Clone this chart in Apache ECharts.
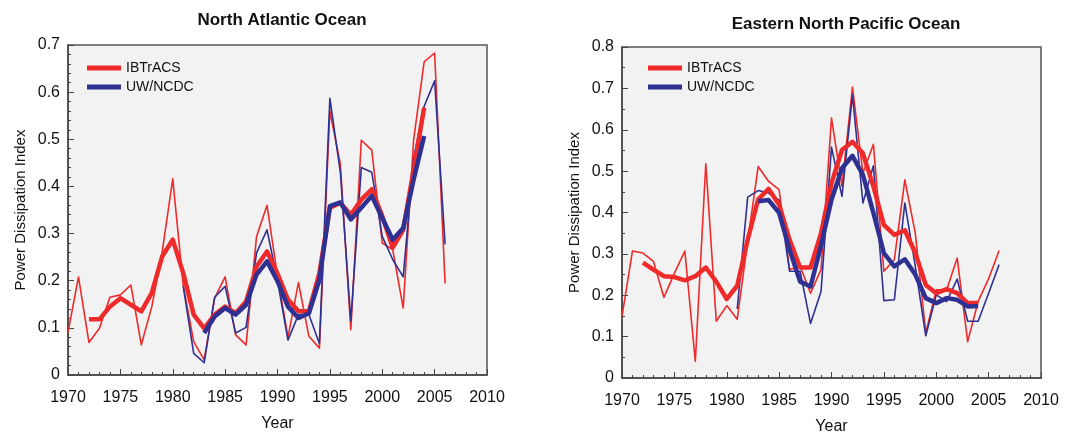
<!DOCTYPE html>
<html>
<head>
<meta charset="utf-8">
<script src="https://cdn.jsdelivr.net/npm/echarts@6/dist/echarts.min.js"></script>
<style>
html,body{margin:0;padding:0;background:#fff;}
#chart{width:1065px;height:432px;}
</style>
</head>
<body>
<div id="chart"></div>
<script>
// ---- Data ----
const titles = ['North Atlantic Ocean', 'Eastern North Pacific Ocean'];
const seriesNames = ['IBTrACS', 'UW/NCDC'];

// North Atlantic
const naIbThinStart = 1970;
const naIbThin = [0.09, 0.208, 0.069, 0.099, 0.165, 0.170, 0.191, 0.064, 0.145, 0.262, 0.416, 0.19, 0.071, 0.032, 0.163, 0.208, 0.085, 0.064, 0.294, 0.36, 0.21, 0.08, 0.196, 0.082, 0.057, 0.56, 0.447, 0.096, 0.498, 0.477, 0.28, 0.266, 0.142, 0.50, 0.664, 0.683, 0.194];
const naUwThinStart = 1981;
const naUwThin = [0.188, 0.046, 0.026, 0.165, 0.188, 0.089, 0.101, 0.259, 0.308, 0.20, 0.074, 0.128, 0.128, 0.067, 0.587, 0.43, 0.115, 0.44, 0.43, 0.294, 0.245, 0.208, 0.46, 0.57, 0.624, 0.277];
const naIbSmoothStart = 1972;
const naIbSmooth = [0.118, 0.118, 0.145, 0.163, 0.149, 0.135, 0.174, 0.252, 0.287, 0.216, 0.128, 0.099, 0.128, 0.145, 0.131, 0.156, 0.23, 0.262, 0.215, 0.16, 0.135, 0.135, 0.216, 0.355, 0.365, 0.34, 0.372, 0.394, 0.337, 0.27, 0.308, 0.436, 0.567];
const naUwSmoothStart = 1983;
const naUwSmooth = [0.089, 0.124, 0.142, 0.128, 0.149, 0.213, 0.241, 0.199, 0.145, 0.121, 0.131, 0.202, 0.358, 0.366, 0.33, 0.355, 0.38, 0.333, 0.287, 0.312, 0.415, 0.507];

// Eastern North Pacific
const enpIbThinStart = 1970;
const enpIbThin = [0.149, 0.307, 0.302, 0.282, 0.195, 0.253, 0.307, 0.040, 0.518, 0.137, 0.175, 0.142, 0.33, 0.511, 0.475, 0.455, 0.262, 0.27, 0.205, 0.262, 0.628, 0.463, 0.703, 0.495, 0.565, 0.258, 0.286, 0.479, 0.35, 0.109, 0.213, 0.213, 0.29, 0.088, 0.185, 0.24, 0.308];
const enpUwThinStart = 1981;
const enpUwThin = [0.167, 0.437, 0.453, 0.447, 0.43, 0.258, 0.258, 0.132, 0.209, 0.558, 0.439, 0.684, 0.423, 0.513, 0.187, 0.189, 0.423, 0.27, 0.102, 0.201, 0.185, 0.239, 0.137, 0.137, 0.205, 0.274];
const enpIbSmoothStart = 1972;
const enpIbSmooth = [0.279, 0.262, 0.246, 0.244, 0.236, 0.246, 0.267, 0.233, 0.191, 0.223, 0.334, 0.432, 0.457, 0.419, 0.334, 0.267, 0.267, 0.35, 0.471, 0.551, 0.571, 0.543, 0.463, 0.37, 0.346, 0.357, 0.302, 0.225, 0.205, 0.215, 0.205, 0.181, 0.181];
const enpUwSmoothStart = 1983;
const enpUwSmooth = [0.427, 0.43, 0.399, 0.31, 0.233, 0.221, 0.32, 0.431, 0.507, 0.537, 0.491, 0.399, 0.302, 0.27, 0.287, 0.25, 0.193, 0.181, 0.193, 0.189, 0.173, 0.174];

const xTicks = { min: 1970, max: 2010, interval: 5 };
const yMaxes = [0.7, 0.8];

// ---- Build ----
const RED = '#ee2a2a';
const BLUE = '#2e3192';
function pairs(start, vals) { return vals.map((v, i) => [start + i, v]); }

const grids = [
  { left: 68, top: 45, width: 419, height: 330 },
  { left: 622, top: 47, width: 419, height: 331 }
];

const chart = echarts.init(document.getElementById('chart'));

function xAxis(i) {
  return {
    gridIndex: i, type: 'value', min: xTicks.min, max: xTicks.max, interval: xTicks.interval,
    name: 'Year', nameLocation: 'middle', nameGap: 41,
    nameTextStyle: { fontFamily: 'Liberation Sans', fontSize: 16, color: '#111' },
    axisLine: { show: true, lineStyle: { color: '#444', width: 1.5 } },
    axisTick: { show: true, inside: true, length: 6, lineStyle: { color: '#444' } },
    minorTick: { show: true, splitNumber: 5, length: 3, lineStyle: { color: '#444' } },
    splitLine: { show: false },
    axisLabel: { fontFamily: 'Liberation Sans', fontSize: 16, color: '#111', margin: 15, formatter: v => String(v) }
  };
}
function yAxis(i, max, minor) {
  return {
    gridIndex: i, type: 'value', min: 0, max: max, interval: 0.1,
    name: 'Power Dissipation Index', nameLocation: 'middle', nameGap: 40,
    nameTextStyle: { fontFamily: 'Liberation Sans', fontSize: 15, color: '#111' },
    axisLine: { show: true, lineStyle: { color: '#444', width: 1.5 } },
    axisTick: { show: true, inside: true, length: 6, lineStyle: { color: '#444' } },
    minorTick: { show: true, splitNumber: minor, length: 3, lineStyle: { color: '#444' } },
    splitLine: { show: false },
    axisLabel: { fontFamily: 'Liberation Sans', fontSize: 16, color: '#111', margin: 8,
      formatter: v => (Math.abs(v) < 1e-9 ? '0' : (Math.round(v * 10) / 10).toFixed(1)) }
  };
}
function line(i, name, data, color, width) {
  return {
    type: 'line', name: name, xAxisIndex: i, yAxisIndex: i, data: data,
    showSymbol: false, symbol: 'none', silent: true,
    lineStyle: { color: color, width: width, join: 'round' },
    itemStyle: { color: color }
  };
}
function legend(i, left) {
  return {
    orient: 'vertical', left: left, top: 56, itemWidth: 34, itemHeight: 5, itemGap: 5,
    icon: 'rect',
    textStyle: { fontFamily: 'Liberation Sans', fontSize: 14, color: '#111' },
    data: [
      { name: seriesNames[0], itemStyle: { color: RED } },
      { name: seriesNames[1], itemStyle: { color: BLUE } }
    ],
    selectedMode: false
  };
}

const option = {
  animation: false,
  backgroundColor: '#fff',
  title: [
    { text: titles[0], left: 277, top: 7, textAlign: 'center',
      textStyle: { fontFamily: 'Liberation Sans', fontSize: 17, fontWeight: 'bold', color: '#111' } },
    { text: titles[1], left: 841, top: 11, textAlign: 'center',
      textStyle: { fontFamily: 'Liberation Sans', fontSize: 17, fontWeight: 'bold', color: '#111' } }
  ],
  legend: [legend(0, 82), legend(1, 643)],
  grid: grids.map(g => Object.assign({ show: true, backgroundColor: '#f2f2f2', borderColor: '#555', borderWidth: 1.5, containLabel: false, outerBoundsMode: 'none' }, g)),
  xAxis: [xAxis(0), xAxis(1)],
  yAxis: [yAxis(0, yMaxes[0], 5), yAxis(1, yMaxes[1], 2)],
  series: [
    line(0, seriesNames[0], pairs(naIbThinStart, naIbThin), RED, 1.6),
    line(0, seriesNames[1], pairs(naUwThinStart, naUwThin), BLUE, 1.6),
    line(0, seriesNames[0], pairs(naIbSmoothStart, naIbSmooth), RED, 4.5),
    line(0, seriesNames[1], pairs(naUwSmoothStart, naUwSmooth), BLUE, 4.5),
    line(1, seriesNames[0], pairs(enpIbThinStart, enpIbThin), RED, 1.6),
    line(1, seriesNames[1], pairs(enpUwThinStart, enpUwThin), BLUE, 1.6),
    line(1, seriesNames[0], pairs(enpIbSmoothStart, enpIbSmooth), RED, 4.5),
    line(1, seriesNames[1], pairs(enpUwSmoothStart, enpUwSmooth), BLUE, 4.5)
  ]
};
chart.setOption(option);
</script>
</body>
</html>
